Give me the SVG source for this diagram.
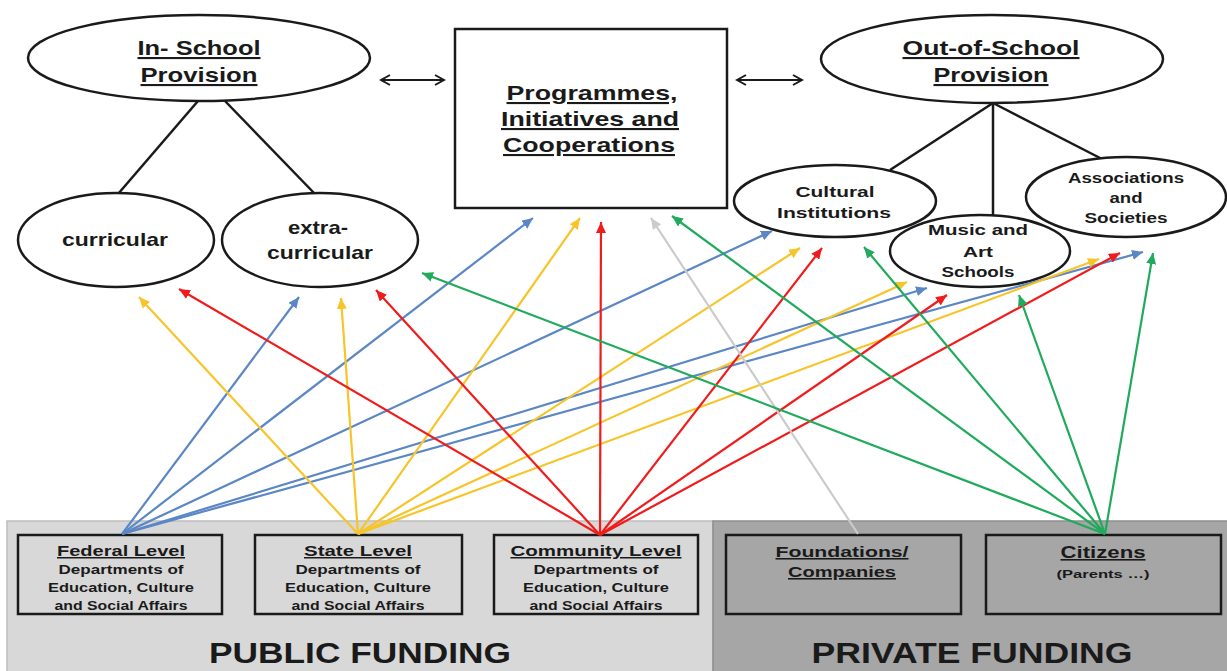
<svg xmlns="http://www.w3.org/2000/svg" width="1227" height="671" viewBox="0 0 1227 671">
<style>
.t{font-family:"Liberation Sans",Arial,sans-serif;font-weight:bold;fill:#1a1a1a;text-anchor:middle}
.u{text-decoration:underline}
.sh{fill:#fff;stroke:#1a1a1a;stroke-width:2.5}
.bx{fill:none;stroke:#1a1a1a;stroke-width:2.5}
.tree{stroke:#1a1a1a;stroke-width:2.5;fill:none}
.dbl{stroke:#1a1a1a;stroke-width:2;fill:none}
.b{stroke:#5b87c5;stroke-width:2.2;fill:none;marker-end:url(#mb)}
.y{stroke:#f7c52a;stroke-width:2.2;fill:none;marker-end:url(#my)}
.r{stroke:#f01c1c;stroke-width:2.2;fill:none;marker-end:url(#mr)}
.g{stroke:#1faa5c;stroke-width:2.2;fill:none;marker-end:url(#mg)}
.gr{stroke:#cbcbcb;stroke-width:2.2;fill:none;marker-end:url(#mgr)}
</style>
<defs>
<marker id="mb" markerUnits="userSpaceOnUse" markerWidth="12" markerHeight="10" refX="11" refY="5" orient="auto"><path d="M0,0 L11,5 L0,10 Z" fill="#5b87c5"/></marker>
<marker id="my" markerUnits="userSpaceOnUse" markerWidth="12" markerHeight="10" refX="11" refY="5" orient="auto"><path d="M0,0 L11,5 L0,10 Z" fill="#f7c52a"/></marker>
<marker id="mr" markerUnits="userSpaceOnUse" markerWidth="12" markerHeight="10" refX="11" refY="5" orient="auto"><path d="M0,0 L11,5 L0,10 Z" fill="#f01c1c"/></marker>
<marker id="mg" markerUnits="userSpaceOnUse" markerWidth="12" markerHeight="10" refX="11" refY="5" orient="auto"><path d="M0,0 L11,5 L0,10 Z" fill="#1faa5c"/></marker>
<marker id="mgr" markerUnits="userSpaceOnUse" markerWidth="12" markerHeight="10" refX="11" refY="5" orient="auto"><path d="M0,0 L11,5 L0,10 Z" fill="#cbcbcb"/></marker>
<marker id="mk" markerUnits="userSpaceOnUse" markerWidth="12" markerHeight="12" refX="10" refY="6" orient="auto-start-reverse"><path d="M1,1 L10,6 L1,11" fill="none" stroke="#1a1a1a" stroke-width="2"/></marker>
</defs>
<rect x="0" y="0" width="1227" height="671" fill="#fff"/>

<g id="public-funding">
<rect x="7" y="521" width="706" height="152" fill="#d8d8d8" stroke="#bdbdbd" stroke-width="1.5"/>
<text class="t" x="360" y="663" font-size="29" textLength="302" lengthAdjust="spacingAndGlyphs">PUBLIC FUNDING</text>
</g>
<g id="private-funding">
<rect x="713" y="521" width="516" height="152" fill="#a6a6a6" stroke="#8f8f8f" stroke-width="1.5"/>
<text class="t" x="972" y="663" font-size="29" textLength="321" lengthAdjust="spacingAndGlyphs">PRIVATE FUNDING</text>
</g>

<g id="federal">
<rect class="bx" x="18" y="535" width="204" height="79"/>
<text class="t u" x="121" y="556" font-size="15" textLength="128" lengthAdjust="spacingAndGlyphs">Federal Level</text>
<text class="t" x="121" y="574" font-size="12.5" textLength="125" lengthAdjust="spacingAndGlyphs">Departments of</text>
<text class="t" x="121" y="592" font-size="12.5" textLength="146" lengthAdjust="spacingAndGlyphs">Education, Culture</text>
<text class="t" x="121" y="610" font-size="12.5" textLength="133" lengthAdjust="spacingAndGlyphs">and Social Affairs</text>
</g>
<g id="state">
<rect class="bx" x="255" y="535" width="207" height="79"/>
<text class="t u" x="358" y="556" font-size="15" textLength="108" lengthAdjust="spacingAndGlyphs">State Level</text>
<text class="t" x="358" y="574" font-size="12.5" textLength="125" lengthAdjust="spacingAndGlyphs">Departments of</text>
<text class="t" x="358" y="592" font-size="12.5" textLength="146" lengthAdjust="spacingAndGlyphs">Education, Culture</text>
<text class="t" x="358" y="610" font-size="12.5" textLength="133" lengthAdjust="spacingAndGlyphs">and Social Affairs</text>
</g>
<g id="community">
<rect class="bx" x="494" y="535" width="204" height="79"/>
<text class="t u" x="596" y="556" font-size="15" textLength="171" lengthAdjust="spacingAndGlyphs">Community Level</text>
<text class="t" x="596" y="574" font-size="12.5" textLength="125" lengthAdjust="spacingAndGlyphs">Departments of</text>
<text class="t" x="596" y="592" font-size="12.5" textLength="146" lengthAdjust="spacingAndGlyphs">Education, Culture</text>
<text class="t" x="596" y="610" font-size="12.5" textLength="133" lengthAdjust="spacingAndGlyphs">and Social Affairs</text>
</g>
<g id="foundations">
<rect class="bx" x="726" y="535" width="235" height="79"/>
<text class="t u" x="842" y="557" font-size="15.5" textLength="133" lengthAdjust="spacingAndGlyphs">Foundations/</text>
<text class="t u" x="842" y="577" font-size="15.5" textLength="108" lengthAdjust="spacingAndGlyphs">Companies</text>
</g>
<g id="citizens">
<rect class="bx" x="986" y="535" width="235" height="79"/>
<text class="t u" x="1103" y="558" font-size="16" textLength="85" lengthAdjust="spacingAndGlyphs">Citizens</text>
<text class="t" x="1103" y="578" font-size="11" font-weight="normal" textLength="93" lengthAdjust="spacingAndGlyphs">(Parents …)</text>
</g>

<g id="tree-lines">
<line class="tree" x1="198" y1="101" x2="118" y2="194"/>
<line class="tree" x1="225" y1="101" x2="315" y2="194"/>
<line class="tree" x1="993" y1="103" x2="890" y2="170"/>
<line class="tree" x1="993" y1="103" x2="993" y2="215"/>
<line class="tree" x1="993" y1="103" x2="1102" y2="159"/>
</g>

<g id="in-school">
<ellipse class="sh" cx="199" cy="58" rx="171" ry="43"/>
<text class="t u" x="199" y="55" font-size="21" textLength="123" lengthAdjust="spacingAndGlyphs">In- School</text>
<text class="t u" x="199" y="82" font-size="21" textLength="117" lengthAdjust="spacingAndGlyphs">Provision</text>
</g>
<g id="curricular">
<ellipse class="sh" cx="116" cy="240" rx="98" ry="47"/>
<text class="t" x="115" y="246" font-size="19" textLength="106" lengthAdjust="spacingAndGlyphs">curricular</text>
</g>
<g id="extra-curricular">
<ellipse class="sh" cx="320" cy="240" rx="98" ry="47"/>
<text class="t" x="318" y="234" font-size="19" textLength="60" lengthAdjust="spacingAndGlyphs">extra-</text>
<text class="t" x="320" y="259" font-size="19" textLength="106" lengthAdjust="spacingAndGlyphs">curricular</text>
</g>
<g id="programmes">
<rect class="sh" x="455" y="29" width="272" height="179"/>
<text class="t u" x="592" y="100" font-size="21" textLength="171" lengthAdjust="spacingAndGlyphs">Programmes,</text>
<text class="t u" x="590" y="126" font-size="21" textLength="178" lengthAdjust="spacingAndGlyphs">Initiatives and</text>
<text class="t u" x="589" y="152" font-size="21" textLength="172" lengthAdjust="spacingAndGlyphs">Cooperations</text>
</g>
<g id="out-of-school">
<ellipse class="sh" cx="992" cy="59" rx="171" ry="44"/>
<text class="t u" x="991" y="55" font-size="21" textLength="177" lengthAdjust="spacingAndGlyphs">Out-of-School</text>
<text class="t u" x="991" y="82" font-size="21" textLength="115" lengthAdjust="spacingAndGlyphs">Provision</text>
</g>
<g id="cultural">
<ellipse class="sh" cx="835" cy="201" rx="101" ry="36"/>
<text class="t" x="835" y="197" font-size="15" textLength="79" lengthAdjust="spacingAndGlyphs">Cultural</text>
<text class="t" x="834" y="218" font-size="15" textLength="114" lengthAdjust="spacingAndGlyphs">Institutions</text>
</g>
<g id="music">
<ellipse class="sh" cx="980" cy="251" rx="90" ry="36"/>
<text class="t" x="978" y="235" font-size="15" textLength="100" lengthAdjust="spacingAndGlyphs">Music and</text>
<text class="t" x="978" y="257" font-size="15" textLength="30" lengthAdjust="spacingAndGlyphs">Art</text>
<text class="t" x="978" y="277" font-size="15" textLength="73" lengthAdjust="spacingAndGlyphs">Schools</text>
</g>
<g id="associations">
<ellipse class="sh" cx="1126" cy="197" rx="100" ry="40"/>
<text class="t" x="1126" y="183" font-size="14" textLength="116" lengthAdjust="spacingAndGlyphs">Associations</text>
<text class="t" x="1126" y="203" font-size="14" textLength="33" lengthAdjust="spacingAndGlyphs">and</text>
<text class="t" x="1126" y="223" font-size="14" textLength="83" lengthAdjust="spacingAndGlyphs">Societies</text>
</g>

<g id="connectors">
<line class="dbl" x1="381" y1="80" x2="444" y2="80" marker-start="url(#mk)" marker-end="url(#mk)"/>
<line class="dbl" x1="737" y1="80" x2="802" y2="80" marker-start="url(#mk)" marker-end="url(#mk)"/>

<line class="b" x1="122" y1="534" x2="299" y2="297"/>
<line class="b" x1="122" y1="534" x2="533" y2="218"/>
<line class="b" x1="122" y1="534" x2="772" y2="231"/>
<line class="b" x1="122" y1="534" x2="927" y2="288"/>
<line class="b" x1="122" y1="534" x2="1143" y2="252"/>

<line class="y" x1="358" y1="534" x2="139" y2="297"/>
<line class="y" x1="358" y1="534" x2="341" y2="298"/>
<line class="y" x1="358" y1="534" x2="580" y2="218"/>
<line class="y" x1="358" y1="534" x2="800" y2="248"/>
<line class="y" x1="358" y1="534" x2="907" y2="282"/>
<line class="y" x1="358" y1="534" x2="1099" y2="259"/>

<line class="r" x1="600" y1="535" x2="179" y2="289"/>
<line class="r" x1="600" y1="535" x2="376" y2="290"/>
<line class="r" x1="600" y1="535" x2="601" y2="222"/>
<line class="r" x1="600" y1="535" x2="822" y2="248"/>
<line class="r" x1="600" y1="535" x2="947" y2="295"/>
<line class="r" x1="600" y1="535" x2="1120" y2="253"/>

<line class="gr" x1="858" y1="534" x2="651" y2="218"/>

<line class="g" x1="1105" y1="534" x2="422" y2="273"/>
<line class="g" x1="1105" y1="534" x2="672" y2="216"/>
<line class="g" x1="1105" y1="534" x2="864" y2="247"/>
<line class="g" x1="1105" y1="534" x2="1019" y2="295"/>
<line class="g" x1="1105" y1="534" x2="1153" y2="253"/>
</g>
</svg>
